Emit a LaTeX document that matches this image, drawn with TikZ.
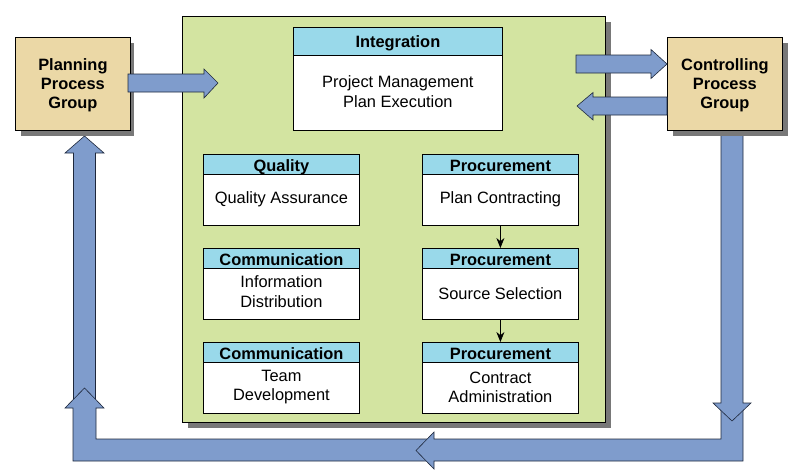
\documentclass[tikz,border=0pt]{standalone}
\usepackage{fontspec}
\setmainfont{Liberation Sans}
\usetikzlibrary{arrows.meta,calc}
\definecolor{grn}{RGB}{211,228,161}
\definecolor{tanbox}{RGB}{235,216,166}
\definecolor{cyanh}{RGB}{153,217,234}
\definecolor{barrow}{RGB}{127,156,204}
\definecolor{shad}{RGB}{120,120,120}
\definecolor{edgec}{RGB}{30,40,60}
\begin{document}
\begin{tikzpicture}[x=1pt,y=-1pt,
  txt/.style={font=\fontsize{16.4}{19.3}\selectfont, align=center, inner sep=0pt},
  hdr/.style={font=\fontsize{16.4}{19.3}\selectfont\bfseries, align=center, inner sep=0pt,
    fill=cyanh, draw=black, line width=0.8pt, minimum width=156pt, minimum height=20pt,
    text height=13.8pt, text depth=0pt, anchor=north},
  card/.style={draw=black, fill=white, line width=0.8pt, minimum width=156pt,
    minimum height=71pt, anchor=north west, inner sep=0pt},
  pgroup/.style={draw=black, fill=tanbox, line width=0.8pt, minimum width=115pt,
    minimum height=93pt, inner sep=0pt, anchor=north west},
  ptxt/.style={align=center, inner sep=0pt, font=\fontsize{16.4}{19.3}\selectfont\bfseries},
  blk/.style={fill=barrow, draw=edgec, line width=0.6pt, line join=miter},
  flow/.style={-{Stealth[length=10pt,width=8pt]}, line width=0.8pt}
]
\useasboundingbox (0,0) rectangle (800,475);

% feedback loop block arrows
\draw[blk] (73.5,400) -- (73.5,153) -- (65,153) -- (84.5,136) -- (104,153) -- (95.5,153) -- (95.5,400) -- cycle;
\draw[blk] (430,439) -- (96,439) -- (96,408) -- (104,408) -- (84.5,388) -- (65,408) -- (73,408) -- (73,461) -- (430,461) -- cycle;
\draw[blk] (721,405) -- (721,439) -- (434,439) -- (434,432) -- (416,450.5) -- (434,469) -- (434,461) -- (743,461) -- (743,405) -- cycle;
\draw[blk] (721,128) -- (721,403) -- (713,403) -- (732,421) -- (751,403) -- (743,403) -- (743,128) -- cycle;

% executing process group
\fill[shad] (188,22) rectangle (611,428);
\node[draw=black, fill=grn, line width=0.8pt, minimum width=423pt, minimum height=406pt,
  anchor=north west, inner sep=0pt] (exec) at (182,16) {};

% planning / controlling
\fill[shad] (21,43) rectangle (134,136);
\node[pgroup] (plan) at (15,37) {};
\node[ptxt] (plant) at ($(plan.center)+(0,1.5)$) {Planning\\Process\\Group};
\fill[shad] (673,43) rectangle (788,136);
\node[pgroup] (ctrl) at (667,37) {};
\node[ptxt] (ctrlt) at ($(ctrl.center)+(0,1.5)$) {Controlling\\Process\\Group};

% integration
\node[card, minimum width=209pt, minimum height=103pt] (integ) at (293,27) {};
\node[hdr, minimum width=209pt, minimum height=28pt, text height=12.4pt] (integh) at (integ.north) {Integration};
\node[txt] (integt) at ($(integ.north)+(0,64.5)$) {Project Management\\Plan Execution};

% left column
\node[card] (qual) at (203,154) {};
\node[hdr] (qualh) at (qual.north) {Quality};
\node[txt] (qualt) at ($(qual.north)+(0,45.5)$) {Quality Assurance};

\node[card] (com1) at (203,248) {};
\node[hdr] (com1h) at (com1.north) {Communication};
\node[txt] (com1t) at ($(com1.north)+(0,43.5)$) {Information\\Distribution};

\node[card] (com2) at (203,342) {};
\node[hdr] (com2h) at (com2.north) {Communication};
\node[txt] (com2t) at ($(com2.north)+(0,45)$) {Team\\Development};

% right column
\node[card] (pro1) at (422,154) {};
\node[hdr] (pro1h) at (pro1.north) {Procurement};
\node[txt] (pro1t) at ($(pro1.north)+(0,45.5)$) {Plan Contracting};

\node[card] (pro2) at (422,248) {};
\node[hdr] (pro2h) at (pro2.north) {Procurement};
\node[txt] (pro2t) at ($(pro2.north)+(0,45.5)$) {Source Selection};

\node[card] (pro3) at (422,342) {};
\node[hdr] (pro3h) at (pro3.north) {Procurement};
\node[txt] (pro3t) at ($(pro3.north)+(0,45)$) {Contract\\Administration};

\draw[flow] (pro1.south) -- (pro2h.north);
\draw[flow] (pro2.south) -- (pro3h.north);

% horizontal block arrows
\draw[blk] (128,74) -- (204,74) -- (204,69) -- (218,83) -- (204,98) -- (204,92) -- (128,92) -- cycle;
\draw[blk] (576,55) -- (651,55) -- (651,49.5) -- (667,64) -- (651,78.5) -- (651,73) -- (576,73) -- cycle;
\draw[blk] (667,97) -- (593,97) -- (593,92.5) -- (577,106) -- (593,120) -- (593,115) -- (667,115) -- cycle;
\end{tikzpicture}
\end{document}
